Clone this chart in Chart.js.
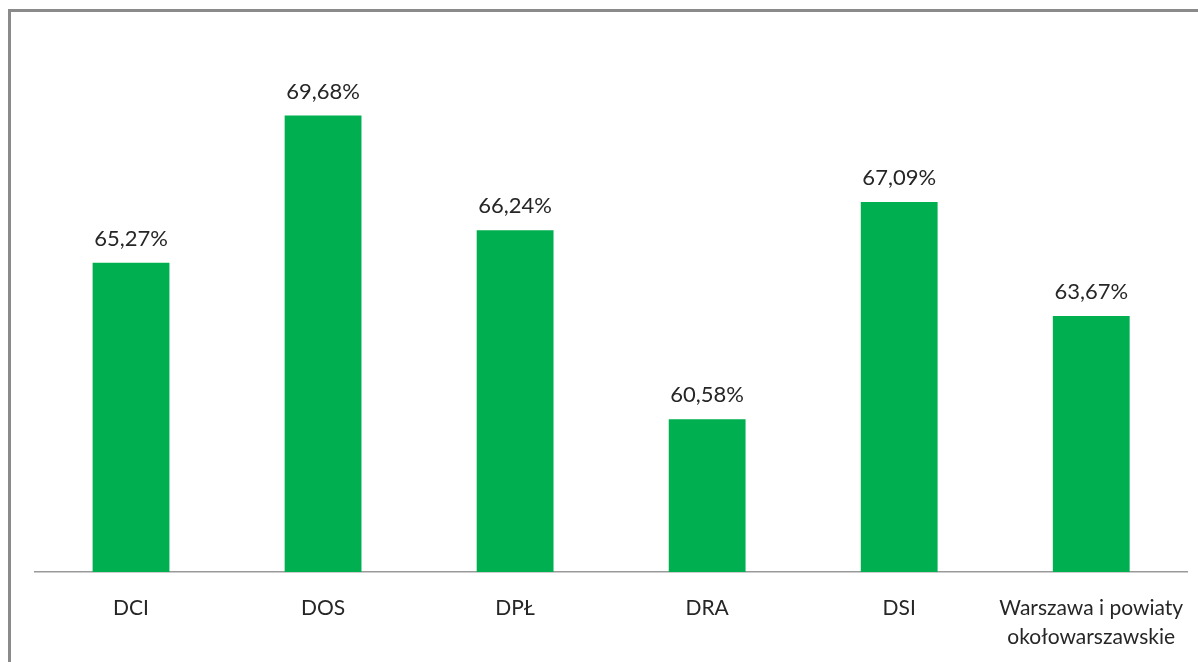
<!DOCTYPE html>
<html>
<head>
<meta charset="utf-8">
<script src="https://cdn.jsdelivr.net/npm/chart.js@4/dist/chart.umd.min.js"></script>
<style>
  html, body { margin: 0; padding: 0; background: #fff; }
  #wrap { position: relative; width: 1198px; height: 662px; overflow: hidden; }
  #frame { position: absolute; left: 8px; top: 9px; right: -10px; bottom: -10px;
           border-top: 3px solid #8a8a8a; border-left: 3px solid #8a8a8a; pointer-events: none; }
</style>
</head>
<body>
<div id="wrap">
  <canvas id="c" width="1198" height="666"></canvas>
  <div id="frame"></div>
</div>
<script>
// categories and values
var categories = ['DCI', 'DOS', 'DPŁ', 'DRA', 'DSI', ['Warszawa i powiaty', 'okołowarszawskie']];
var shares = [65.27, 69.68, 66.24, 60.58, 67.09, 63.67];

var FONT = "'Lato', sans-serif";
var BAR = '#00b050';

function fmtPct(v) {
  return v.toFixed(2).replace('.', ',') + '%';
}

// value labels above each bar
var valueLabels = {
  id: 'valueLabels',
  afterDatasetsDraw: function (chart) {
    var ctx = chart.ctx;
    var meta = chart.getDatasetMeta(0);
    ctx.save();
    ctx.font = '22px ' + FONT;
    ctx.fillStyle = '#262626';
    ctx.textAlign = 'center';
    ctx.textBaseline = 'bottom';
    meta.data.forEach(function (bar, i) {
      ctx.fillText(fmtPct(shares[i]), bar.x, bar.y - 13);
    });
    ctx.restore();
  }
};

new Chart(document.getElementById('c'), {
  type: 'bar',
  data: {
    labels: categories,
    datasets: [{
      data: shares,
      backgroundColor: BAR,
      borderWidth: 0,
      categoryPercentage: 1,
      barPercentage: 0.4
    }]
  },
  options: {
    responsive: false, animation: false,
    layout: { padding: { left: 35, right: 10, top: 38, bottom: 0 } },
    plugins: { legend: { display: false }, tooltip: { enabled: false } },
    scales: {
      x: {
        grid: { display: false },
        border: { display: true, color: '#9a9a9a', width: 1.5 },
        ticks: {
          color: '#262626', padding: 14, maxRotation: 0, autoSkip: false,
          font: { family: FONT, size: 21, lineHeight: 1.38 }
        }
      },
      y: { display: false, min: 56, max: 72 }
    }
  },
  plugins: [valueLabels]
});
</script>
</body>
</html>
